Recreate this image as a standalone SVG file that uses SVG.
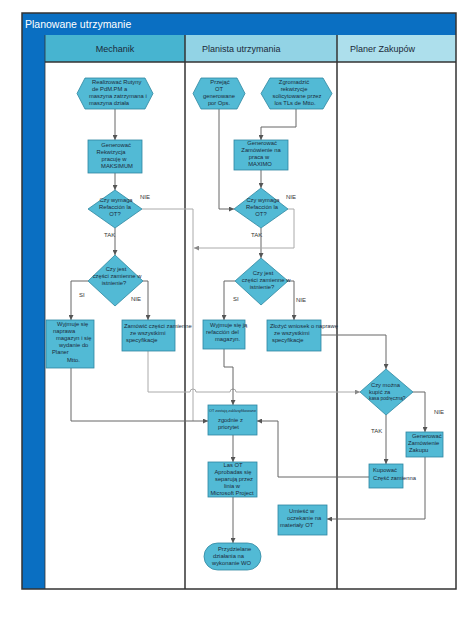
<svg xmlns="http://www.w3.org/2000/svg" width="474" height="632" viewBox="0 0 474 632">
<defs>
<marker id="ah" markerWidth="5" markerHeight="5" refX="5" refY="2.5" orient="auto" markerUnits="userSpaceOnUse"><path d="M0,0 L5,2.5 L0,5 z" fill="#555"/></marker>
<marker id="ahl" markerWidth="5" markerHeight="5" refX="5" refY="2.5" orient="auto" markerUnits="userSpaceOnUse"><path d="M0,0 L5,2.5 L0,5 z" fill="#888"/></marker>
</defs>
<style>
.n{fill:#52BAD5;stroke:#2E86A0;stroke-width:0.8}
.t{font-family:"Liberation Sans",Arial,sans-serif;font-size:5.8px;fill:#1b2a3a}
.tc{text-anchor:middle}
.lb{font-family:"Liberation Sans",Arial,sans-serif;font-size:6px;fill:#333}
.c{fill:none;stroke:#666;stroke-width:1}
.cl{fill:none;stroke:#aaa;stroke-width:1}
.hd{font-family:"Liberation Sans",Arial,sans-serif;font-size:9px;fill:#1b2a3a}
.lane{stroke:#333;stroke-width:1.5;fill:none}
</style>
<rect width="474" height="632" fill="#fff"/>
<g id="pool">
<rect x="22" y="13" width="434" height="22" fill="#0A6FC2"/>
<text x="25" y="28" font-family="'Liberation Sans',Arial,sans-serif" font-size="10.5" fill="#fff">Planowane utrzymanie</text>
<rect x="22" y="35" width="23" height="554" fill="#0A6FC2"/>
<rect x="45" y="35" width="140" height="27" fill="#47B4D0"/>
<rect x="185" y="35" width="152" height="27" fill="#92D3E5"/>
<rect x="337" y="35" width="119" height="27" fill="#ADDFEC"/>
<text x="115" y="52" class="hd" text-anchor="middle">Mechanik</text>
<text x="202" y="52" class="hd">Planista utrzymania</text>
<text x="350" y="52" class="hd">Planer Zakupów</text>
<line x1="45" y1="62" x2="456" y2="62" class="lane"/>
<line x1="185" y1="35" x2="185" y2="589" class="lane"/>
<line x1="337" y1="35" x2="337" y2="589" class="lane"/>
<rect x="22" y="13" width="434" height="576" class="lane"/>
<line x1="45" y1="35" x2="45" y2="589" stroke="#333" stroke-width="0.8"/>
</g>
<g id="connectors">
<path class="c" d="M115,109 V140" marker-end="url(#ah)"/>
<path class="c" d="M115,173 V190" marker-end="url(#ah)"/>
<path class="cl" d="M142,209 H193 V421"/>
<path class="c" d="M115,228 V255" marker-end="url(#ah)"/>
<path class="c" d="M88,281 H71 V320" marker-end="url(#ah)"/>
<path class="c" d="M143,281 H148 V320" marker-end="url(#ah)"/>
<path class="c" d="M71,368 V421 H208" marker-end="url(#ah)"/>
<path class="cl" d="M148,351 V392 H190 a3,3 0 0 1 6,0 H230 a3,3 0 0 1 6,0 H360" marker-end="url(#ahl)"/>
<path class="c" d="M219,109 V209 H234" marker-end="url(#ah)"/>
<path class="c" d="M296,109 V127 H261 V140" marker-end="url(#ah)"/>
<path class="c" d="M261,170 V188" marker-end="url(#ah)"/>
<path class="c" d="M261,228 V258" marker-end="url(#ah)"/>
<path class="cl" d="M288,209 H294 V248 H194" marker-end="url(#ahl)"/>
<path class="c" d="M235,281 H224 V320" marker-end="url(#ah)"/>
<path class="c" d="M288,281 H294 V320" marker-end="url(#ah)"/>
<path class="c" d="M224,349 V367 H233 V405" marker-end="url(#ah)"/>
<path class="c" d="M321,335 H386 V369" marker-end="url(#ah)"/>
<path class="c" d="M413,392 H425 V432" marker-end="url(#ah)"/>
<path class="c" d="M386,415 V464" marker-end="url(#ah)"/>
<path class="c" d="M425,457 V519 H327" marker-end="url(#ah)"/>
<path class="c" d="M369,477 H278 V421 H257" marker-end="url(#ah)"/>
<path class="c" d="M233,435 V462" marker-end="url(#ah)"/>
<path class="c" d="M233,497 V543" marker-end="url(#ah)"/>
<text class="lb" x="140" y="199">NIE</text>
<text class="lb" x="104" y="237">TAK</text>
<text class="lb" x="79" y="297">SI</text>
<text class="lb" x="131" y="301">NIE</text>
<text class="lb" x="286" y="199">NIE</text>
<text class="lb" x="251" y="237">TAK</text>
<text class="lb" x="233" y="301">SI</text>
<text class="lb" x="296" y="302">NIE</text>
<text class="lb" x="434" y="414">NIE</text>
<text class="lb" x="371" y="433">TAK</text>
</g>
<g id="n1">
<polygon class="n" points="77,93.5 85,78 145,78 153,93.5 145,109 85,109"/>
<text class="t" x="92" y="84">Realizować Rutyny</text>
<text class="t" x="92" y="91">de PdM.PM a</text>
<text class="t" x="89" y="98">maszyna zatrzymana i</text>
<text class="t" x="89" y="105">maszyna działa</text>
</g>
<g id="n2">
<rect class="n" x="88" y="140" width="54" height="33"/>
<text class="t tc" x="116" y="147">Generować</text>
<text class="t tc" x="111" y="154">Rekwizycja</text>
<text class="t tc" x="114" y="161">pracuję w</text>
<text class="t tc" x="117" y="168">MAKSIMUM</text>
</g>
<g id="n3">
<polygon class="n" points="115,190 142,209 115,228 88,209"/>
<text class="t tc" x="116" y="202">Czy wymaga</text>
<text class="t tc" x="115" y="209">Refacción la</text>
<text class="t tc" x="115" y="216">OT?</text>
</g>
<g id="n4">
<polygon class="n" points="115,255 143,281 115,306 88,281"/>
<text class="t tc" x="116" y="271">Czy jest</text>
<text class="t tc" x="117" y="278">części zamienne w</text>
<text class="t tc" x="114" y="285">istnienie?</text>
</g>
<g id="n5">
<rect class="n" x="46" y="320" width="48" height="48"/>
<text class="t" x="57" y="326">Wyjmuje się</text>
<text class="t" x="53" y="333">naprawa</text>
<text class="t" x="56" y="340">magazyn i się</text>
<text class="t" x="59" y="347">wydanie do</text>
<text class="t" x="52" y="354">Planer</text>
<text class="t" x="67" y="362">Mtto.</text>
</g>
<g id="n6">
<rect class="n" x="122" y="320" width="53" height="31"/>
<text class="t" x="124" y="328">Zamówić części zamienne</text>
<text class="t" x="130" y="335">ze wszystkimi</text>
<text class="t" x="126" y="342">specyfikacje</text>
</g>
<g id="n7">
<polygon class="n" points="193,93.5 201,78 237,78 245,93.5 237,109 201,109"/>
<text class="t tc" x="220" y="84">Przejąć</text>
<text class="t tc" x="219" y="91">OT</text>
<text class="t tc" x="219" y="98">generowane</text>
<text class="t tc" x="219" y="105">por Ops.</text>
</g>
<g id="n8">
<polygon class="n" points="261,93.5 270,78 323,78 332,93.5 323,109 270,109"/>
<text class="t tc" x="294" y="84">Zgromadzić</text>
<text class="t tc" x="294" y="91">rekwizycje</text>
<text class="t tc" x="297" y="98">solicytowane przez</text>
<text class="t tc" x="295" y="105">los TLs de Mtto.</text>
</g>
<g id="n9">
<rect class="n" x="234" y="140" width="54" height="30"/>
<text class="t tc" x="262" y="145">Generować</text>
<text class="t tc" x="261" y="152">Zamówienie na</text>
<text class="t tc" x="259" y="159">praca w</text>
<text class="t tc" x="260" y="166">MAXIMO</text>
</g>
<g id="n10">
<polygon class="n" points="261,188 288,209 261,228 234,209"/>
<text class="t tc" x="263" y="202">Czy wymaga</text>
<text class="t tc" x="262" y="209">Refacción la</text>
<text class="t tc" x="261" y="216">OT?</text>
</g>
<g id="n11">
<polygon class="n" points="261,258 288,281 261,305 235,281"/>
<text class="t tc" x="263" y="275">Czy jest</text>
<text class="t tc" x="266" y="282">części zamienne w</text>
<text class="t tc" x="262" y="289">istnienie?</text>
</g>
<g id="n12">
<rect class="n" x="203" y="320" width="42" height="29"/>
<text class="t" x="210" y="327">Wyjmuje się ją</text>
<text class="t" x="206" y="334">refacción del</text>
<text class="t" x="215" y="341">magazyn.</text>
</g>
<g id="n13">
<rect class="n" x="267" y="320" width="54" height="31"/>
<text class="t" x="270" y="328">Złożyć wniosek o naprawę</text>
<text class="t" x="274" y="335">ze wszystkimi</text>
<text class="t" x="272" y="342">specyfikacje</text>
</g>
<g id="n14">
<rect class="n" x="208" y="405" width="49" height="30"/>
<text x="209" y="412" font-family="'Liberation Sans',Arial,sans-serif" font-size="3.8" fill="#1b2a3a">OT zostają zaklasyfikowane</text>
<text class="t" x="218" y="422">zgodnie z</text>
<text class="t" x="218" y="429">priorytet</text>
</g>
<g id="n15">
<rect class="n" x="208" y="462" width="49" height="35"/>
<text class="t tc" x="233" y="467">Las OT</text>
<text class="t tc" x="233" y="474">Aprobadas się</text>
<text class="t tc" x="234" y="481">separują przez</text>
<text class="t tc" x="232" y="488">linia w</text>
<text class="t tc" x="232" y="495">Microsoft Project</text>
</g>
<g id="n16">
<rect class="n" x="204" y="543" width="57" height="27" rx="13.5"/>
<text class="t" x="218" y="551">Przydzielane</text>
<text class="t" x="213" y="558">działania na</text>
<text class="t" x="212" y="565">wykonanie WO</text>
</g>
<g id="n17">
<polygon class="n" points="386,369 413,392 386,415 360,392"/>
<text class="t" x="371" y="387">Czy można</text>
<text class="t" x="369" y="394">kupić za</text>
<text x="369" y="400" font-family="'Liberation Sans',Arial,sans-serif" font-size="4.8" fill="#1b2a3a">kasa podręczną?</text>
</g>
<g id="n18">
<rect class="n" x="406" y="432" width="37" height="25"/>
<text class="t" x="412" y="438">Generować</text>
<text class="t" x="408" y="445">Zamówienie</text>
<text class="t" x="409" y="452">Zakupu</text>
</g>
<g id="n19">
<rect class="n" x="369" y="464" width="34" height="24"/>
<text class="t" x="373" y="472">Kupować</text>
<text class="t" x="373" y="480">Część zamienna</text>
</g>
<g id="n20">
<rect class="n" x="278" y="505" width="49" height="30"/>
<text class="t" x="289" y="513">Umieść w</text>
<text class="t" x="287" y="520">oczekanie na</text>
<text class="t" x="280" y="527">materiały OT</text>
</g>
</svg>
